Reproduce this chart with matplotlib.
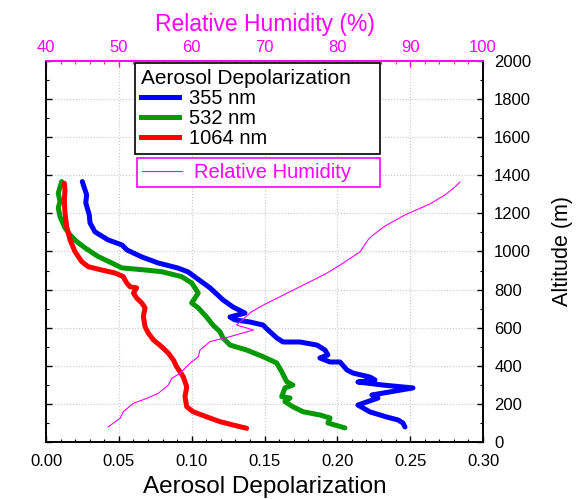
import matplotlib
matplotlib.use("Agg")
import matplotlib.pyplot as plt
from matplotlib.lines import Line2D
from matplotlib.ticker import MultipleLocator, FormatStrFormatter

plt.rcParams['font.family'] = ['Liberation Sans', 'DejaVu Sans']

# Depolarization profiles: (depolarization, altitude in m)
dep_355 = [0.0249, 0.0279, 0.0273, 0.0297, 0.0302, 0.0336, 0.0426, 0.0522, 0.0556, 0.0659,
           0.0769, 0.0906, 0.0975, 0.107, 0.1126, 0.1215, 0.1283, 0.1366, 0.1263, 0.1297,
           0.140, 0.149, 0.1524, 0.1585, 0.1627, 0.1743, 0.186, 0.1915, 0.1935, 0.188,
           0.195, 0.2018, 0.2066, 0.2107, 0.2224, 0.2258, 0.2141, 0.2313, 0.2519, 0.2361,
           0.2237, 0.2279, 0.2141, 0.2176, 0.2224, 0.234, 0.2416, 0.245, 0.2464]
alt_355 = [1367, 1297, 1255, 1192, 1150, 1103, 1061, 1034, 1008, 971,
           940, 913, 893, 840, 809, 746, 709, 677, 656, 641,
           630, 614, 588, 546, 525, 525, 509, 483, 457, 441,
           420, 420, 378, 362, 341, 326, 315, 299, 284, 263,
           247, 231, 194, 179, 158, 131, 116, 100, 79]

dep_532 = [0.0108, 0.0084, 0.0096, 0.0084, 0.0096, 0.013, 0.0165, 0.0211, 0.0268, 0.0359,
           0.0451, 0.052, 0.068, 0.0794, 0.0931, 0.100, 0.1045, 0.100, 0.1045, 0.110,
           0.1146, 0.1194, 0.1215, 0.1263, 0.1377, 0.149, 0.1583, 0.1618, 0.1652, 0.1695,
           0.164, 0.1618, 0.1675, 0.164, 0.1695, 0.1764, 0.188, 0.195, 0.1935, 0.2052]
alt_532 = [1367, 1307, 1262, 1229, 1183, 1124, 1087, 1052, 1019, 973,
           940, 914, 903, 894, 868, 835, 782, 730, 704, 658,
           614, 579, 546, 509, 483, 448, 415, 369, 317, 299,
           284, 238, 231, 212, 185, 159, 142, 126, 100, 74]

dep_1064 = [0.0126, 0.013, 0.0126, 0.013, 0.0142, 0.0165, 0.0199, 0.0245, 0.029, 0.0382,
            0.0474, 0.053, 0.0554, 0.0577, 0.0622, 0.060, 0.0622, 0.0657, 0.068, 0.0668,
            0.068, 0.0702, 0.0737, 0.0794, 0.0839, 0.0874, 0.0897, 0.0942, 0.0966, 0.0954,
            0.0966, 0.101, 0.110, 0.1194, 0.1286, 0.1377]
alt_1064 = [1358, 1323, 1271, 1202, 1130, 1061, 999, 947, 920, 903,
            887, 868, 835, 815, 809, 782, 756, 730, 704, 658,
            605, 572, 536, 500, 467, 431, 395, 343, 290, 238,
            185, 159, 133, 107, 89, 72]

# Relative humidity profile (%)
rh = [48.55, 50.16, 50.61, 51.99, 53.83, 55.42, 56.79, 57.26, 58.40, 59.77,
      60.91, 61.14, 62.52, 63.44, 65.26, 68.46, 66.18, 68.15, 69.84, 71.68,
      73.96, 76.70, 78.54, 80.37, 83.11, 84.21, 84.76, 86.55, 89.29, 92.72,
      94.78, 96.16, 96.84]
alt_rh = [80, 124, 159, 203, 229, 256, 299, 334, 361, 413,
          448, 483, 527, 536, 553, 588, 614, 682, 719, 754,
          798, 850, 886, 929, 998, 1061, 1082, 1134, 1192, 1250,
          1297, 1339, 1365]

wavelength_labels = ['355 nm', '532 nm', '1064 nm']
colors = ['#0000ff', '#009900', '#ff0000']
magenta = '#ff00ff'

fig = plt.figure(figsize=(5.84, 4.99), dpi=100)
ax = fig.add_axes([0.0788, 0.1142, 0.7483, 0.7636])

ax.set_xlim(0, 0.30)
ax.set_ylim(0, 2000)
ax.grid(True, which='major', color='#c8c8c8', linestyle=':', linewidth=0.8)
ax.set_axisbelow(True)

for d, a, c in zip([dep_355, dep_532, dep_1064], [alt_355, alt_532, alt_1064], colors):
    ax.plot(d, a, color=c, linewidth=3.6, solid_capstyle='round', solid_joinstyle='round')

ax.xaxis.set_major_locator(MultipleLocator(0.05))
ax.xaxis.set_minor_locator(MultipleLocator(0.01))
ax.yaxis.set_major_locator(MultipleLocator(200))
ax.yaxis.set_minor_locator(MultipleLocator(100))
ax.xaxis.set_major_formatter(FormatStrFormatter('%.2f'))
ax.tick_params(axis='both', which='both', direction='in', labelsize=12)
ax.tick_params(axis='y', which='both', left=True, right=True, labelleft=False,
               labelright=True, pad=8)
ax.tick_params(axis='x', which='both', pad=8.5)
ax.tick_params(which='major', length=4, width=1)
ax.tick_params(which='minor', length=2.5, width=0.8)
ax.set_xlabel('Aerosol Depolarization', fontsize=17.5, labelpad=5)
ax.yaxis.set_label_position('right')
ax.set_ylabel('Altitude (m)', fontsize=15.5, labelpad=15, rotation=90)

# Relative humidity on a secondary top axis
ax_rh = ax.twiny()
ax_rh.set_xlim(40, 100)
ax_rh.plot(rh, alt_rh, color=magenta, linewidth=0.8)
ax_rh.xaxis.set_major_locator(MultipleLocator(10))
ax_rh.xaxis.set_minor_locator(MultipleLocator(2))
ax_rh.tick_params(axis='x', which='both', direction='in', colors=magenta,
                  labelsize=12, pad=4)
ax_rh.tick_params(which='major', length=4, width=1)
ax_rh.tick_params(which='minor', length=2.5, width=0.8)
ax_rh.set_xlabel('Relative Humidity (%)', color=magenta, fontsize=16.5, labelpad=7)

for a in (ax, ax_rh):
    for side in ('left', 'right', 'bottom'):
        a.spines[side].set_color('black')
        a.spines[side].set_linewidth(1.2)
    a.spines['top'].set_color(magenta)
    a.spines['top'].set_linewidth(1.2)

handles = [Line2D([], [], color=c, linewidth=3.6) for c in colors]
leg1 = ax_rh.legend(handles, wavelength_labels, title='Aerosol Depolarization',
                    loc='upper left', bbox_to_anchor=(0.2037, 0.7585, 0.5606, 0.2363),
                    mode='expand', fontsize=14.5, title_fontsize=15, frameon=True,
                    fancybox=False, edgecolor='black', framealpha=1,
                    handlelength=1.9, handletextpad=0.5, borderpad=0.3,
                    labelspacing=0.05, borderaxespad=0)
leg1.get_frame().set_linewidth(1.2)
leg1._legend_box.align = 'left'
ax_rh.add_artist(leg1)

leg2 = ax_rh.legend([Line2D([], [], color=magenta, linewidth=0.8)], ['Relative Humidity'],
                    loc='upper left', bbox_to_anchor=(0.2082, 0.672, 0.556, 0.0734),
                    mode='expand', fontsize=14.5, frameon=True, fancybox=False,
                    edgecolor=magenta, framealpha=1, handlelength=2.0,
                    handletextpad=0.6, borderpad=0.25, borderaxespad=0,
                    labelcolor=magenta)
leg2.get_frame().set_linewidth(1.2)

fig.savefig('out.png', dpi=100)
